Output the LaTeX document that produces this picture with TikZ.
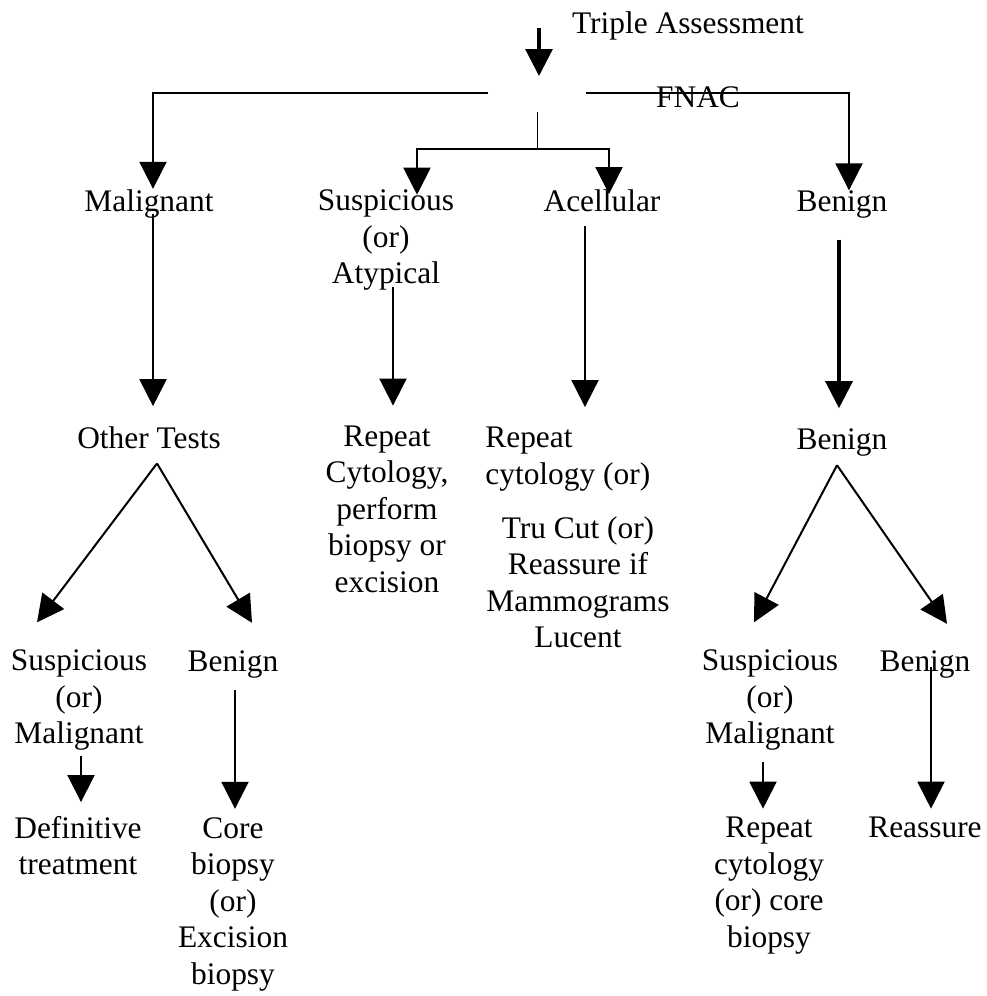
\documentclass[tikz,border=0pt]{standalone}
\usepackage{fontspec}
\setmainfont{Liberation Serif}
\usetikzlibrary{calc, positioning, arrows.meta}

\begin{document}
\begin{tikzpicture}
      [x=0.5pt, y=-0.5pt, text centered,
       every node/.style={inner sep=0pt, align=center, font=\fontsize{15.7pt}{18.25pt}\selectfont},
       arr/.style={-{Triangle[length=13.5pt,width=13.5pt]}, line width=1pt},
       heavy/.style={line width=1.6pt}]

      \useasboundingbox (0,0) rectangle (986,996);

      %nodes
      \node (triple) at (688,26) {Triple Assessment};
      \node (fnac) at (698,97) {FNAC};
      \node (mal) at (149,203.5) {Malignant};
      \node (susp) at (386,240) {Suspicious\\(or)\\Atypical};
      \node (acel) at (602,200.5) {Acellular};
      \node (ben1) at (842,204.5) {Benign};
      \node (other) at (149,438) {Other Tests};
      \node (ben2) at (842,442) {Benign};
      \node (rep1) at (387,509) {Repeat\\Cytology,\\perform\\biopsy or\\excision};
      \node[align=left, anchor=west] (rep2) at (485,459) {Repeat\\cytology (or)};
      \node (tru) at (578,582) {Tru Cut (or)\\Reassure if\\Mammograms\\Lucent};
      \node (sm1) at (79,700) {Suspicious\\(or)\\Malignant};
      \node (ben3) at (233,664) {Benign};
      \node (def) at (78,845.5) {Definitive\\treatment};
      \node (core) at (233,904) {Core\\biopsy\\(or)\\Excision\\biopsy};
      \node (sm2) at (770,700) {Suspicious\\(or)\\Malignant};
      \node (ben4) at (925,664) {Benign};
      \node (rep3) at (769,885.5) {Repeat\\cytology\\(or) core\\biopsy};
      \node (reas) at (925,827.5) {Reassure};

      \coordinate (in) at (539,28);
      \coordinate (hub) at (539,76);
      \coordinate (hubL) at (488,93);
      \coordinate (hubR) at (586,93);
      \coordinate (hubB) at (537,112);
      \coordinate (split) at (537,149);

      % edges %
      \draw[arr, heavy] (in) -- (hub);
      \draw[arr] (hubL) -| ([xshift=2pt]mal.north);
      \draw[arr] (hubR) -| ([xshift=3.5pt]ben1.north);
      \draw (hubB) -- (split);
      \draw[arr] (split) -| ([xshift=15.5pt,yshift=-2.7pt]susp.north);
      \draw[arr] (split) -| ([xshift=3.5pt,yshift=-2.5pt]acel.north);

      \draw[arr, shorten >=10.2pt] ([xshift=2pt,yshift=2pt]mal.south) coordinate (s1) -- (s1 |- other.north);
      \draw[arr, shorten >=9.8pt] ([xshift=3.5pt,yshift=2pt]susp.south) coordinate (s2) -- (s2 |- rep1.north);
      \draw[arr, shorten >=9.8pt] ([xshift=-8.5pt,yshift=-7pt]acel.south) coordinate (s3) -- (s3 |- rep2.north);
      \draw[arr, heavy, shorten >=9.8pt] ([xshift=-1.5pt,yshift=-10.5pt]ben1.south) coordinate (s4) -- (s4 |- ben2.north);

      \draw[arr] ([xshift=4pt,yshift=-7pt]other.south) -- ([xshift=-21pt,yshift=13.5pt]sm1.north);
      \draw[arr] ([xshift=4pt,yshift=-7pt]other.south) -- ([xshift=9.5pt,yshift=13.5pt]ben3.north);
      \draw[arr] ([xshift=-2.5pt,yshift=-4.5pt]ben2.south) -- ([xshift=-8pt,yshift=13.5pt]sm2.north);
      \draw[arr] ([xshift=-2.5pt,yshift=-4.5pt]ben2.south) -- ([xshift=11pt,yshift=13pt]ben4.north);

      \draw[arr, shorten >=6.8pt] ([xshift=1pt,yshift=-2.5pt]sm1.south) coordinate (s5) -- (s5 |- def.north);
      \draw[arr, shorten >=4pt] ([xshift=1pt,yshift=-6pt]ben3.south) coordinate (s6) -- (s6 |- core.north);
      \draw[arr, shorten >=4pt] ([xshift=-3.5pt,yshift=-5.5pt]sm2.south) coordinate (s7) -- (s7 |- rep3.north);
      \draw[arr, shorten >=4pt] ([xshift=3pt,yshift=5.5pt]ben4.south) coordinate (s8) -- (s8 |- reas.north);
    \end{tikzpicture}
\end{document}
